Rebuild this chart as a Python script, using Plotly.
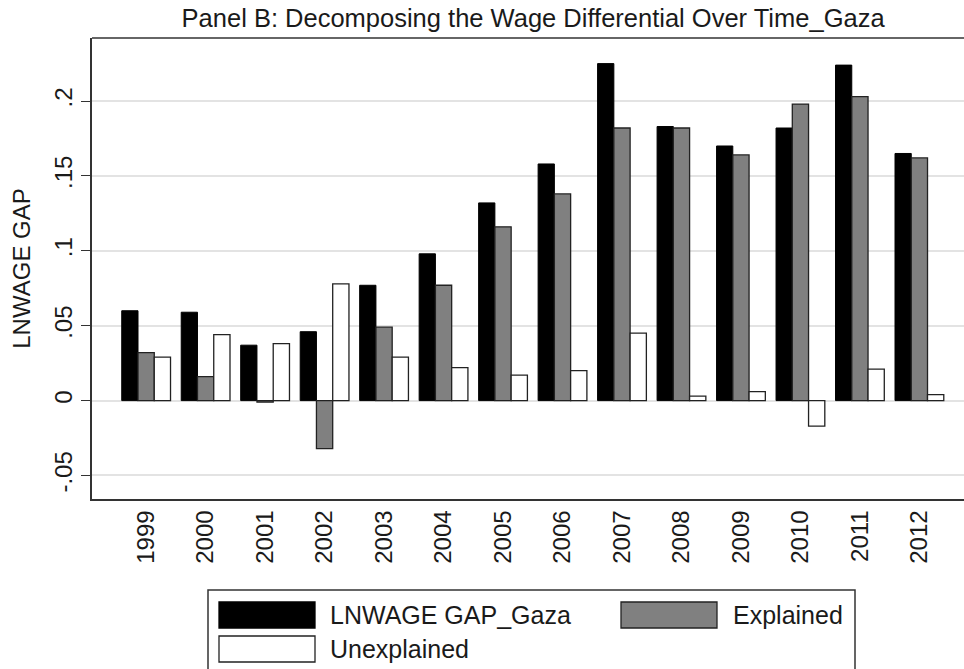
"""Panel B: decomposition of the log wage gap over time, Gaza."""

import plotly.graph_objects as go

years = ["1999", "2000", "2001", "2002", "2003", "2004", "2005",
         "2006", "2007", "2008", "2009", "2010", "2011", "2012"]
gap = [0.060, 0.059, 0.037, 0.046, 0.077, 0.098, 0.132,
       0.158, 0.225, 0.183, 0.170, 0.182, 0.224, 0.165]
explained = [0.032, 0.016, -0.001, -0.032, 0.049, 0.077, 0.116,
             0.138, 0.182, 0.182, 0.164, 0.198, 0.203, 0.162]
unexplained = [0.029, 0.044, 0.038, 0.078, 0.029, 0.022, 0.017,
               0.020, 0.045, 0.003, 0.006, -0.017, 0.021, 0.004]

y_ticks = [-0.05, 0, 0.05, 0.1, 0.15, 0.2]
y_labels = ["-.05", "0", ".05", ".1", ".15", ".2"]

FONT = "Liberation Sans, Arial, sans-serif"
TXT = "#1a1a1a"

fig = go.Figure()
fig.add_bar(x=years, y=gap, name="LNWAGE GAP_Gaza",
            marker=dict(color="black", line=dict(color="black", width=1)))
fig.add_bar(x=years, y=explained, name="Explained",
            marker=dict(color="#808080", line=dict(color="#222", width=1.3)))
fig.add_bar(x=years, y=unexplained, name="Unexplained",
            marker=dict(color="white", line=dict(color="#222", width=1.3)))

fig.update_layout(
    width=964, height=669,
    margin=dict(l=92, r=0, t=38, b=170),
    barmode="group", bargap=0.18, bargroupgap=0,
    plot_bgcolor="white", paper_bgcolor="white",
    showlegend=False,
    font=dict(family=FONT, color=TXT),
    title=dict(text="Panel B: Decomposing the Wage Differential Over Time_Gaza",
               x=0.553, xanchor="center", y=0.973, yanchor="middle",
               font=dict(size=25.5, color=TXT)),
)
fig.update_xaxes(
    type="category", range=[-0.91, 13.75], automargin=False,
    showline=True, linecolor="#333", linewidth=1.5,
    ticks="", tickangle=-90, tickfont=dict(size=24, color=TXT),
    showgrid=False,
)
fig.update_yaxes(
    range=[-0.0657, 0.2421], tickvals=y_ticks, ticktext=y_labels,
    automargin=False,
    tickangle=-90, tickfont=dict(size=24, color=TXT),
    ticks="outside", ticklen=9, tickcolor="#333", tickwidth=1.3,
    showline=True, linecolor="#333", linewidth=1.5,
    showgrid=True, gridcolor="#e3e3e3", gridwidth=1.5,
    zeroline=False,
    title=dict(text="LNWAGE GAP", font=dict(size=24, color=TXT), standoff=12),
)

# top border of the plot frame (right side runs off the page)
fig.add_shape(type="line", xref="paper", yref="paper", x0=0, x1=1.02, y0=1, y1=1,
              line=dict(color="#333", width=1.5))


# legend box drawn by hand to get the wide Stata swatches
def px_x(p):
    return (p - 92) / 872


def px_y(p):
    return (499 - p) / 461


fig.add_shape(type="rect", xref="paper", yref="paper",
              x0=px_x(208), x1=px_x(855), y0=px_y(700), y1=px_y(590),
              line=dict(color="#333", width=1.5), fillcolor="white")
legend_items = [
    ("LNWAGE GAP_Gaza", "black", "black", 219, 602, 330),
    ("Explained", "#808080", "#222", 621, 602, 733),
    ("Unexplained", "white", "#222", 219, 636, 330),
]
for label, fill, edge, x0, y0, tx in legend_items:
    fig.add_shape(type="rect", xref="paper", yref="paper",
                  x0=px_x(x0), x1=px_x(x0 + 96), y0=px_y(y0 + 26), y1=px_y(y0),
                  line=dict(color=edge, width=1.3), fillcolor=fill)
    fig.add_annotation(text=label, xref="paper", yref="paper",
                       x=px_x(tx - 2), y=px_y(y0 + 13), xanchor="left", yanchor="middle",
                       showarrow=False, font=dict(size=25, color=TXT))

fig.write_html(
    "out.html",
    config={"displayModeBar": False},
    post_script="document.body.style.margin='0';document.body.style.overflow='hidden';",
)
